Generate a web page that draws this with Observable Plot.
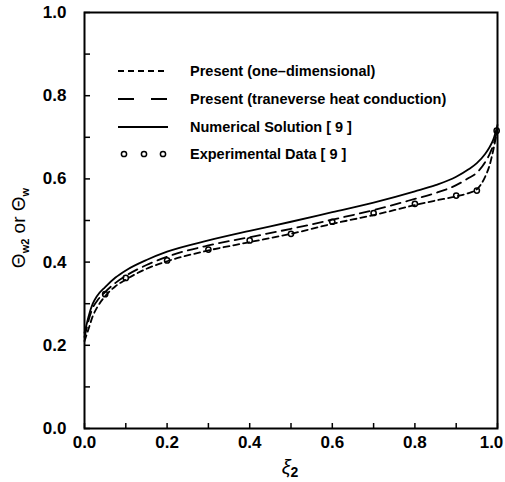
<!DOCTYPE html>
<html>
<head>
<meta charset="utf-8">
<script src="https://cdn.jsdelivr.net/npm/d3@7"></script>
<script src="https://cdn.jsdelivr.net/npm/@observablehq/plot@0.6"></script>
<style>
  html, body { margin: 0; padding: 0; background: #fff; }
  #chart svg { display: block; }
</style>
</head>
<body>
<div id="chart"></div>
<script>
// ---- data ----
const xi = [0, 0.005, 0.01, 0.02, 0.03, 0.05, 0.075, 0.1, 0.15, 0.2, 0.3, 0.4, 0.5, 0.6, 0.7, 0.8, 0.85, 0.9, 0.93, 0.95, 0.97, 0.98, 0.99, 1.0];
const numerical   = [0.23, 0.25, 0.27, 0.30, 0.318, 0.34, 0.363, 0.38, 0.405, 0.425, 0.452, 0.475, 0.497, 0.52, 0.543, 0.57, 0.585, 0.605, 0.623, 0.638, 0.66, 0.675, 0.695, 0.73];
const transverse  = [0.22, 0.24, 0.26, 0.29, 0.306, 0.328, 0.35, 0.367, 0.393, 0.413, 0.44, 0.46, 0.48, 0.502, 0.525, 0.552, 0.566, 0.585, 0.602, 0.615, 0.64, 0.658, 0.682, 0.72];
const oneDim      = [0.21, 0.225, 0.24, 0.27, 0.29, 0.318, 0.342, 0.358, 0.384, 0.402, 0.428, 0.448, 0.468, 0.492, 0.513, 0.537, 0.548, 0.558, 0.566, 0.575, 0.605, 0.63, 0.67, 0.72];
const expX = [0.05, 0.1, 0.2, 0.3, 0.4, 0.5, 0.6, 0.7, 0.8, 0.9, 0.95, 0.998];
const expY = [0.323, 0.362, 0.404, 0.43, 0.452, 0.468, 0.497, 0.518, 0.54, 0.56, 0.572, 0.716];
const yTickLabels = [0, 0.2, 0.4, 0.6, 0.8, 1.0];
const xTickLabels = [0, 0.2, 0.4, 0.6, 0.8];
const xLastLabel = [1.0];
const minorTicks = [0, 0.1, 0.2, 0.3, 0.4, 0.5, 0.6, 0.7, 0.8, 0.9, 1.0];
const legendLabels = [
  "Present (one\u2013dimensional)",
  "Present (traneverse heat conduction)",
  "Numerical Solution [ 9 ]",
  "Experimental Data [ 9 ]"
];

const toRows = ys => xi.map((x, i) => ({x, y: ys[i]}));
const expRows = expX.map((x, i) => ({x, y: expY[i]}));

const font = "'Liberation Sans', Arial, Helvetica, sans-serif";

const plot = Plot.plot({
  width: 505,
  height: 482,
  marginLeft: 84,
  marginRight: 8,
  marginTop: 12,
  marginBottom: 54,
  style: {fontFamily: font, background: "#fff", color: "#000", overflow: "visible"},
  x: {domain: [0, 1]},
  y: {domain: [0, 1]},
  marks: [
    // inward tick marks
    Plot.axisY({ticks: minorTicks, tickSize: 6, dx: 6, text: null, label: null, strokeWidth: 1.5}),
    Plot.axisX({ticks: minorTicks, tickSize: 5, dy: -5, text: null, label: null, strokeWidth: 1.5}),
    // tick labels
    Plot.axisY({ticks: yTickLabels, tickSize: 0, tickPadding: 18, tickFormat: d3.format(".1f"),
                fontSize: 17, fontWeight: "bold", label: null}),
    Plot.axisX({ticks: xTickLabels, tickSize: 0, tickPadding: 7, tickFormat: d3.format(".1f"),
                fontSize: 17, fontWeight: "bold", label: null}),
    Plot.axisX({ticks: xLastLabel, tickSize: 0, tickPadding: 7, tickFormat: d3.format(".1f"),
                fontSize: 17, fontWeight: "bold", label: null, dx: -6}),
    Plot.line(toRows(numerical), {x: "x", y: "y", stroke: "#000", strokeWidth: 1.8, curve: "monotone-x"}),
    Plot.line(toRows(transverse), {x: "x", y: "y", stroke: "#000", strokeWidth: 1.8, strokeDasharray: "10,6", curve: "monotone-x"}),
    Plot.line(toRows(oneDim), {x: "x", y: "y", stroke: "#000", strokeWidth: 1.8, strokeDasharray: "6,4", curve: "monotone-x"}),
    Plot.dot(expRows, {x: "x", y: "y", r: 2.6, stroke: "#000", strokeWidth: 1.5, fill: "none"}),
    Plot.frame({stroke: "#000", strokeWidth: 2})
  ]
});

document.getElementById("chart").appendChild(plot);

const svg = d3.select(plot);

// Axis titles
const yl = svg.append("text")
  .attr("transform", "translate(25,228) rotate(-90)")
  .attr("text-anchor", "middle")
  .attr("font-family", font)
  .attr("font-size", 19)
  .attr("fill", "#000");
yl.append("tspan").text("\u0398");
yl.append("tspan").attr("font-size", 11).attr("font-weight", "bold").attr("dy", 4).text("w2");
yl.append("tspan").attr("dy", -4).text(" or \u0398");
yl.append("tspan").attr("font-size", 11).attr("font-weight", "bold").attr("dy", 4).text("w");

const xl = svg.append("text")
  .attr("x", 290).attr("y", 474)
  .attr("text-anchor", "middle")
  .attr("font-family", font)
  .attr("font-size", 20)
  .attr("fill", "#000");
xl.append("tspan").attr("font-style", "italic").text("\u03BE");
xl.append("tspan").attr("font-size", 14).attr("font-weight", "bold").attr("dy", 3).text("2");

// Legend
const rowsY = [71, 99, 127, 154];
const dashes = ["6,4", "16,17", null, null];
const lg = svg.append("g")
  .attr("font-family", font).attr("font-size", 14.5).attr("font-weight", "bold")
  .attr("text-anchor", "start");
legendLabels.forEach((t, i) => {
  const yy = rowsY[i];
  if (i < 3) {
    lg.append("line").attr("x1", 118).attr("x2", 168).attr("y1", yy).attr("y2", yy)
      .attr("stroke", "#000").attr("stroke-width", 1.8)
      .attr("stroke-dasharray", dashes[i]);
  } else {
    [124, 144, 163].forEach(cx => lg.append("circle").attr("cx", cx).attr("cy", yy).attr("r", 2.6)
      .attr("fill", "none").attr("stroke", "#000").attr("stroke-width", 1.5));
  }
  lg.append("text").attr("x", 190).attr("y", yy).attr("dy", "0.35em")
    .attr("text-anchor", "start").attr("fill", "#000").text(t);
});
</script>
</body>
</html>
